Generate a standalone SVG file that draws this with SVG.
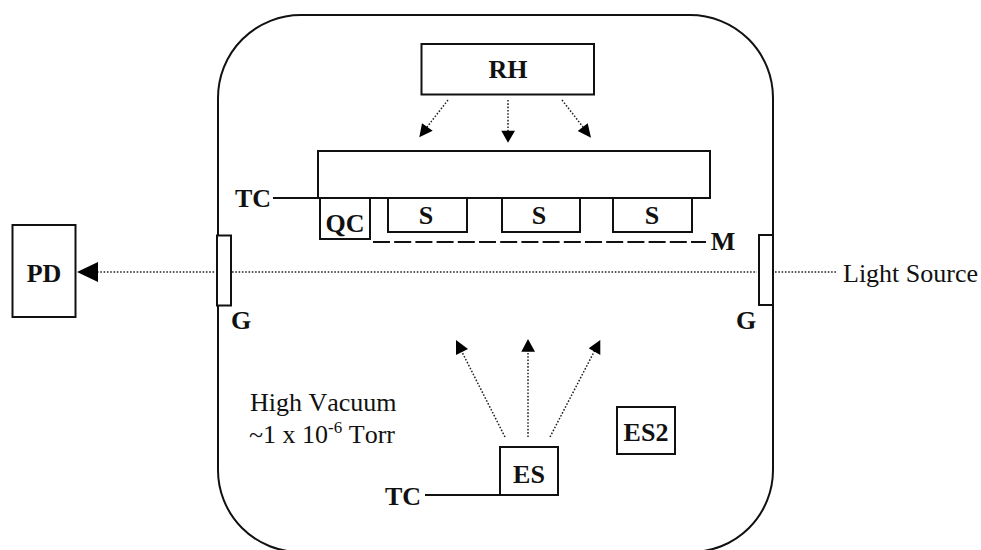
<svg xmlns="http://www.w3.org/2000/svg" width="981" height="550" viewBox="0 0 981 550">
<style>
.b{fill:#fff;stroke:#111;stroke-width:2}
.l{fill:none;stroke:#111;stroke-width:2}
.d{fill:none;stroke:#222;stroke-width:1.5;stroke-dasharray:1.6 1.7}
.a{fill:#000}
text{font-family:"Liberation Serif","Times New Roman",serif;font-size:26px;fill:#111;font-kerning:none}
.t{font-weight:bold;text-anchor:middle}
</style>
<rect width="981" height="550" fill="#fff"/>
<g id="chamber"><path class="l" d="M218 98A83 83 0 0 1 301 15H690A83 83 0 0 1 773 98V470A82 82 0 0 1 691 552H300A82 82 0 0 1 218 470Z"/></g>
<g id="connectors">
<path class="d" d="M97 272H215M232 272H757M775 272H836"/>
<path class="d" stroke-width="1.1" d="M448 100L427 127M508 100V131M562 100L583 127M505 437L461 350M528 437V350M550 437L595 350"/>
<path class="a" d="M77 272L98 262V282ZM419.300 137.300L422 123.300L432.700 130.700ZM508 142.700L501.300 130.700H515ZM591 137.700L577.700 131L587.700 123.300ZM456 340L468 349L456 355ZM528 339L535 351.700H521.300ZM600.300 340L600.300 355L588.700 348.300Z"/>
<path class="l" d="M273 198H318M425 495H500"/>
<path class="l" stroke-dasharray="17 4.2" d="M373 242H706"/>
</g>
<g id="RH"><rect class="b" x="421.500" y="44" width="172.500" height="50.500"/><text class="t" x="508" y="78">RH</text></g>
<g id="holder"><rect class="b" x="318" y="151" width="392" height="47"/></g>
<g id="TC1"><text class="t" x="253" y="207">TC</text></g>
<g id="QC"><rect class="b" x="320" y="198" width="50" height="41"/><text class="t" x="345" y="232">QC</text></g>
<g id="S1"><rect class="b" x="388" y="198" width="79" height="34"/><text class="t" x="426" y="224">S</text></g>
<g id="S2"><rect class="b" x="502" y="198" width="78" height="34"/><text class="t" x="539" y="224">S</text></g>
<g id="S3"><rect class="b" x="613" y="198" width="79" height="34"/><text class="t" x="652" y="224">S</text></g>
<g id="M"><text class="t" x="723" y="250">M</text></g>
<g id="PD"><rect class="b" x="12.500" y="225" width="63" height="92"/><text class="t" x="44" y="282">PD</text></g>
<g id="G1"><rect class="b" x="217" y="235.500" width="14" height="70"/><text class="t" x="241" y="329">G</text></g>
<g id="G2"><rect class="b" x="759" y="235" width="14" height="70"/><text class="t" x="746" y="329">G</text></g>
<g id="LS"><text x="843" y="282">Light Source</text></g>
<g id="HV"><text x="250" y="411">High Vacuum</text><text x="249" y="443">~1 x 10<tspan dy="-10" font-size="17">-6</tspan><tspan dy="10"> Torr</tspan></text></g>
<g id="ES"><rect class="b" x="500" y="447" width="58" height="48"/><text class="t" x="529" y="483">ES</text></g>
<g id="ES2"><rect class="b" x="617" y="407" width="58" height="47"/><text class="t" x="646" y="441">ES2</text></g>
<g id="TC2"><text class="t" x="403" y="505">TC</text></g>
</svg>
